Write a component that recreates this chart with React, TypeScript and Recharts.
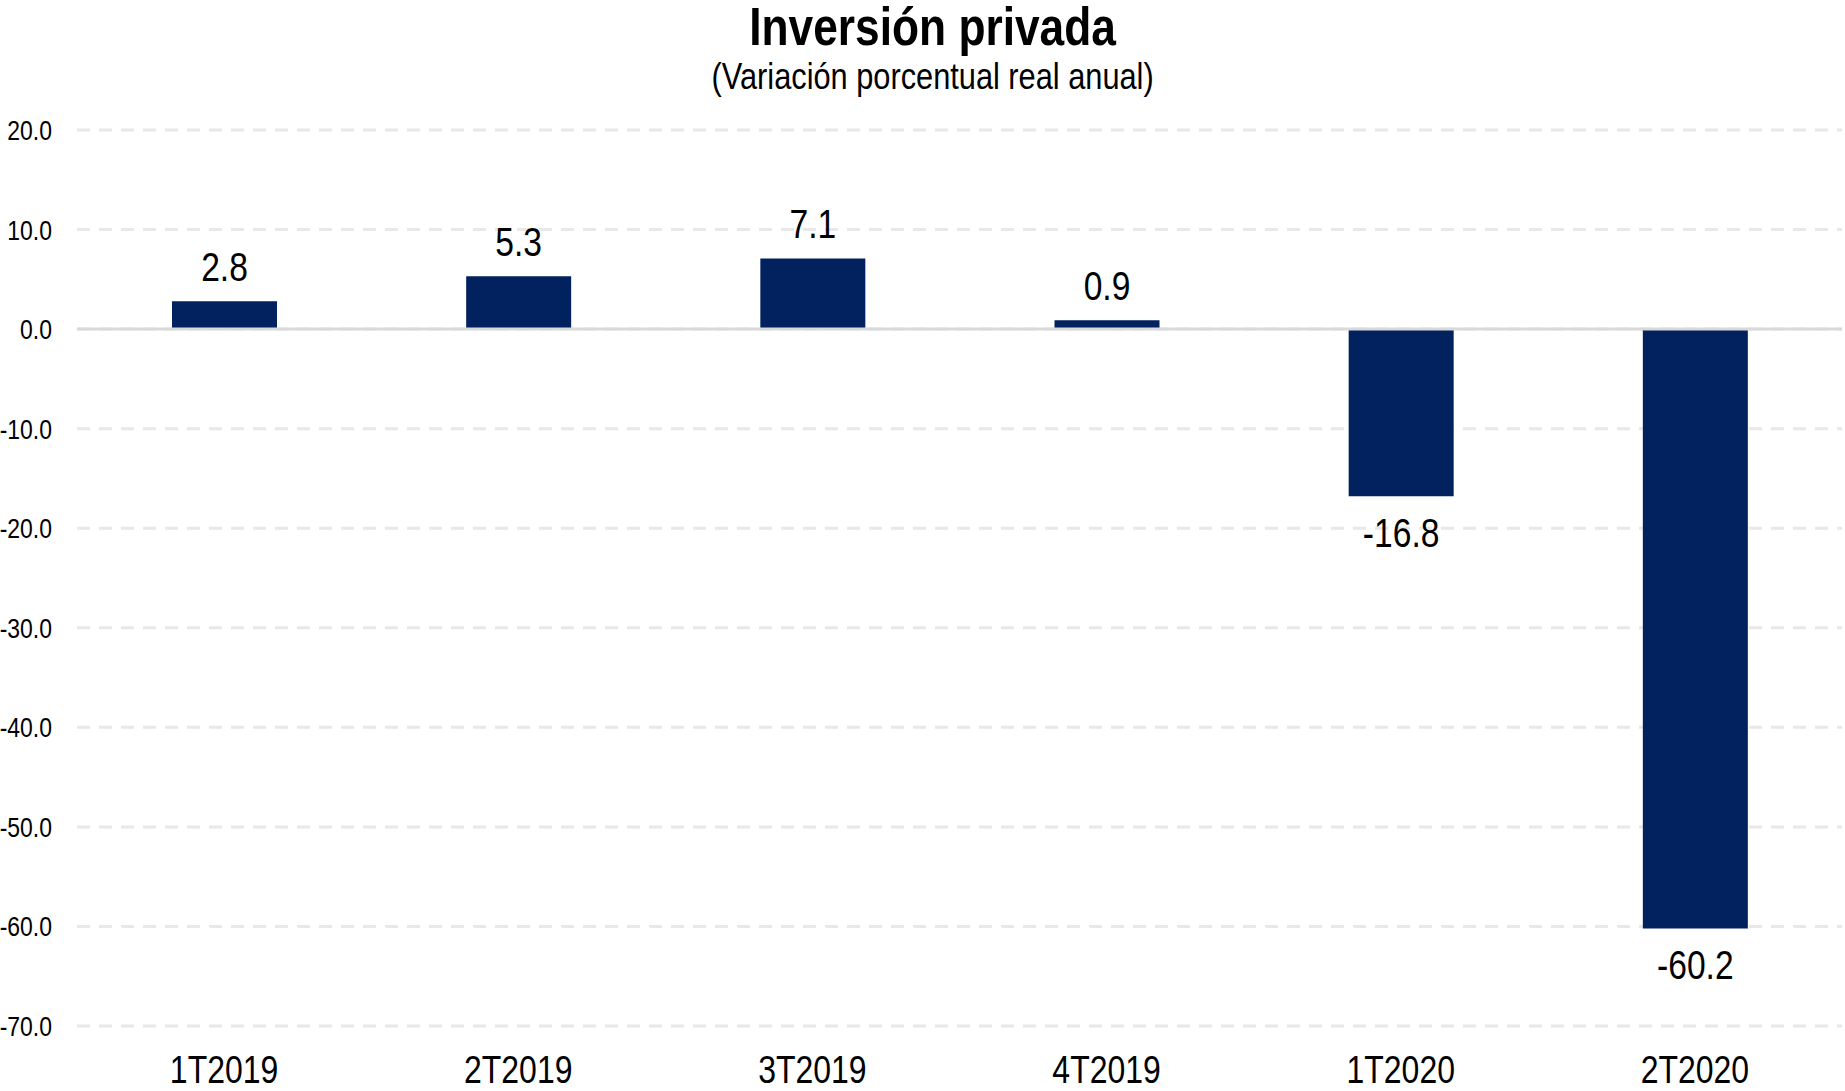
import React from 'react';
import { BarChart, Bar, XAxis, YAxis, CartesianGrid, ReferenceLine, LabelList } from 'recharts';

const categories = ['1T2019', '2T2019', '3T2019', '4T2019', '1T2020', '2T2020'];
const values = [2.8, 5.3, 7.1, 0.9, -16.8, -60.2];
const yTicks = [-70, -60, -50, -40, -30, -20, -10, 0, 10, 20];

const data = categories.map((c, i) => ({ name: c, value: values[i] }));

// no Arial Narrow here, so squeeze Liberation Sans horizontally
const FONT = '"Liberation Sans", Arial, sans-serif';
const SQUEEZE = 0.82;
const BAR_COLOR = '#02215F';

const NarrowText = ({ x, y, anchor, size, children }: any) => (
  <text
    transform={`translate(${x},${y}) scale(${SQUEEZE},1)`}
    textAnchor={anchor}
    fill="#000"
    fontSize={size}
    fontFamily={FONT}
  >
    {children}
  </text>
);

const ValueLabel = (props: any) => {
  const { x, y, width, height, value } = props;
  const top = Math.min(y, y + height);
  const bottom = Math.max(y, y + height);
  const cx = x + width / 2;
  const ty = value >= 0 ? top - 20 : bottom + 51;
  return (
    <NarrowText x={cx} y={ty} anchor="middle" size={41}>
      {Number(value).toFixed(1)}
    </NarrowText>
  );
};

const XTick = (props: any) => {
  const { x, y, payload } = props;
  return (
    <NarrowText x={x} y={y + 33} anchor="middle" size={39}>
      {payload.value}
    </NarrowText>
  );
};

const YTick = (props: any) => {
  const { x, y, payload } = props;
  return (
    <NarrowText x={x} y={y + 10} anchor="end" size={28}>
      {Number(payload.value).toFixed(1)}
    </NarrowText>
  );
};

const App: React.FC = () => {
  return (
    <div style={{ position: 'absolute', left: 0, top: 0, width: 1845, height: 1091, background: '#fff' }}>
      <div
        style={{
          position: 'absolute', left: 10, top: 0, width: 1845, height: 52, lineHeight: '52px',
          textAlign: 'center', fontFamily: FONT, fontSize: 54, fontWeight: 'bold', color: '#000',
        }}
      >
        <span style={{ display: 'inline-block', transform: `scaleX(${SQUEEZE})` }}>Inversión privada</span>
      </div>
      <div
        style={{
          position: 'absolute', left: 10, top: 56, width: 1845, height: 40, lineHeight: '40px',
          textAlign: 'center', fontFamily: FONT, fontSize: 37.5, color: '#000',
        }}
      >
        <span style={{ display: 'inline-block', transform: `scaleX(${SQUEEZE})` }}>(Variación porcentual real anual)</span>
      </div>
      <BarChart
        width={1845}
        height={1091}
        data={data}
        margin={{ top: 130, right: 3, bottom: 0, left: 0 }}
      >
        <CartesianGrid vertical={false} stroke="#E8E8E8" strokeWidth={3} strokeDasharray="13 9" />
        <XAxis
          dataKey="name"
          axisLine={false}
          tickLine={false}
          tickSize={0}
          tickMargin={24}
          tick={<XTick />}
          height={65}
        />
        <YAxis
          type="number"
          domain={[-70, 20]}
          ticks={yTicks}
          interval={0}
          axisLine={false}
          tickLine={false}
          tickSize={0}
          tickMargin={25}
          width={77}
          tick={<YTick />}
        />
        <ReferenceLine y={0} stroke="#D9D9D9" strokeWidth={3} />
        <Bar dataKey="value" fill={BAR_COLOR} barSize={105} isAnimationActive={false}>
          <LabelList dataKey="value" content={<ValueLabel />} />
        </Bar>
      </BarChart>
    </div>
  );
};

export default App;
